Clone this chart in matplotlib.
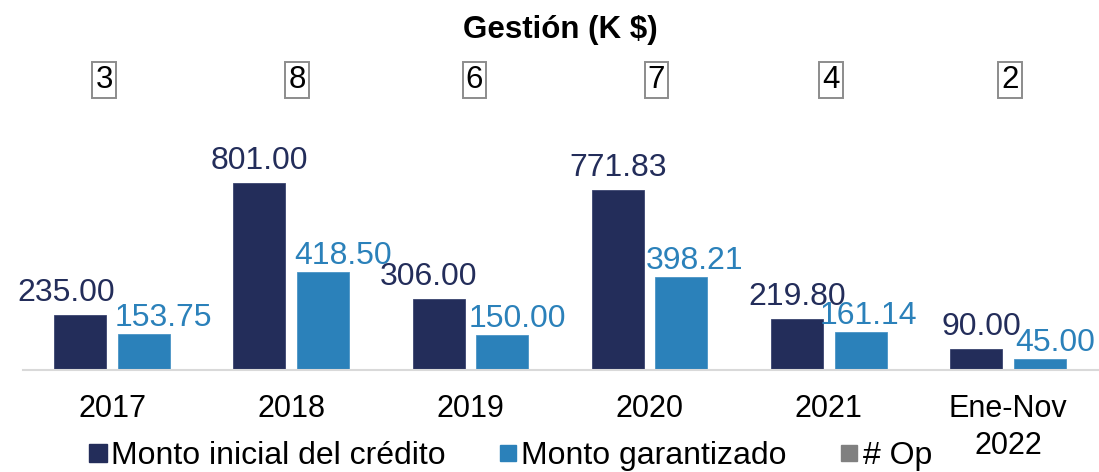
import matplotlib.pyplot as plt
import matplotlib.transforms as mtransforms
from matplotlib.lines import Line2D
import numpy as np

# datos
years = ["2017", "2018", "2019", "2020", "2021", "Ene-Nov\n2022"]
monto_inicial = [235.00, 801.00, 306.00, 771.83, 219.80, 90.00]
monto_garantizado = [153.75, 418.50, 150.00, 398.21, 161.14, 45.00]
num_op = [3, 8, 6, 7, 4, 2]

navy = "#232D5A"
blue = "#2B81BA"
gray = "#808080"

plt.rcParams["font.family"] = ["Liberation Sans", "DejaVu Sans"]

fig = plt.figure(figsize=(10.99, 4.72), dpi=100)
W, H = 1099, 472
base_px = 370
top_px = 40
ax = fig.add_axes([22.5 / W, (H - base_px) / H, (1097.5 - 22.5) / W, (base_px - top_px) / H])

x = np.arange(len(years))
bw = 0.29
off = 0.178
ax.bar(x - off, monto_inicial, bw, color=navy, edgecolor="#3A4470", linewidth=0.6)
ax.bar(x + off, monto_garantizado, bw, color=blue, edgecolor="#4A95C6", linewidth=0.6)

ax.set_xlim(-0.5, 5.5)
ax.set_ylim(0, (base_px - top_px) / 0.2335)

# etiquetas de valores (desplazamiento horizontal en pixeles)
dx_ini = [-14, 0, -10, 0, 0, 5]
dx_gar = [19, 20, 15, 13, 8, 15]
for i in range(len(years)):
    ax.annotate(f"{monto_inicial[i]:.2f}", (x[i] - off, monto_inicial[i]),
                xytext=(dx_ini[i], 14), textcoords="offset pixels",
                ha="center", va="baseline", fontsize=23, color=navy)
    ax.annotate(f"{monto_garantizado[i]:.2f}", (x[i] + off, monto_garantizado[i]),
                xytext=(dx_gar[i], 8), textcoords="offset pixels",
                ha="center", va="baseline", fontsize=23, color=blue)

# numero de operaciones en recuadros
trans = mtransforms.blended_transform_factory(ax.transData, fig.transFigure)
dx_op = [-8, 6, 4, 7, 2, 2]
for i in range(len(years)):
    ax.annotate(str(num_op[i]), (x[i], 1 - 80 / H), xycoords=trans,
                xytext=(dx_op[i], 0), textcoords="offset pixels",
                ha="center", va="center", fontsize=22.5, color="black",
                bbox=dict(boxstyle="square,pad=0.1", fc="white", ec="#8C8C8C", lw=1.4),
                annotation_clip=False)

for s in ["top", "right", "left"]:
    ax.spines[s].set_visible(False)
ax.spines["bottom"].set_color("#D9D9D9")
ax.spines["bottom"].set_linewidth(1.5)
ax.set_yticks([])
ax.set_xticks(x)
ax.set_xticklabels(years, fontsize=22, linespacing=1.3)
ax.tick_params(axis="x", length=0, pad=17)

fig.text(560 / W, 1 - 30 / H, "Gestión (K $)", ha="center", va="center",
         fontsize=22.5, fontweight="bold")

handles = [
    Line2D([], [], marker="s", ls="", ms=13, color=navy),
    Line2D([], [], marker="s", ls="", ms=12, color=blue),
    Line2D([], [], marker="s", ls="", ms=11, color=gray),
]
fig.legend(handles, ["Monto inicial del crédito", "Monto garantizado", "# Op"],
           loc="lower left", bbox_to_anchor=(88 / W, 1 / H), ncol=3, frameon=False,
           fontsize=23, handlelength=0.6, handletextpad=0.12, columnspacing=1.65,
           borderpad=0, borderaxespad=0)

fig.savefig("out.png", dpi=100)
